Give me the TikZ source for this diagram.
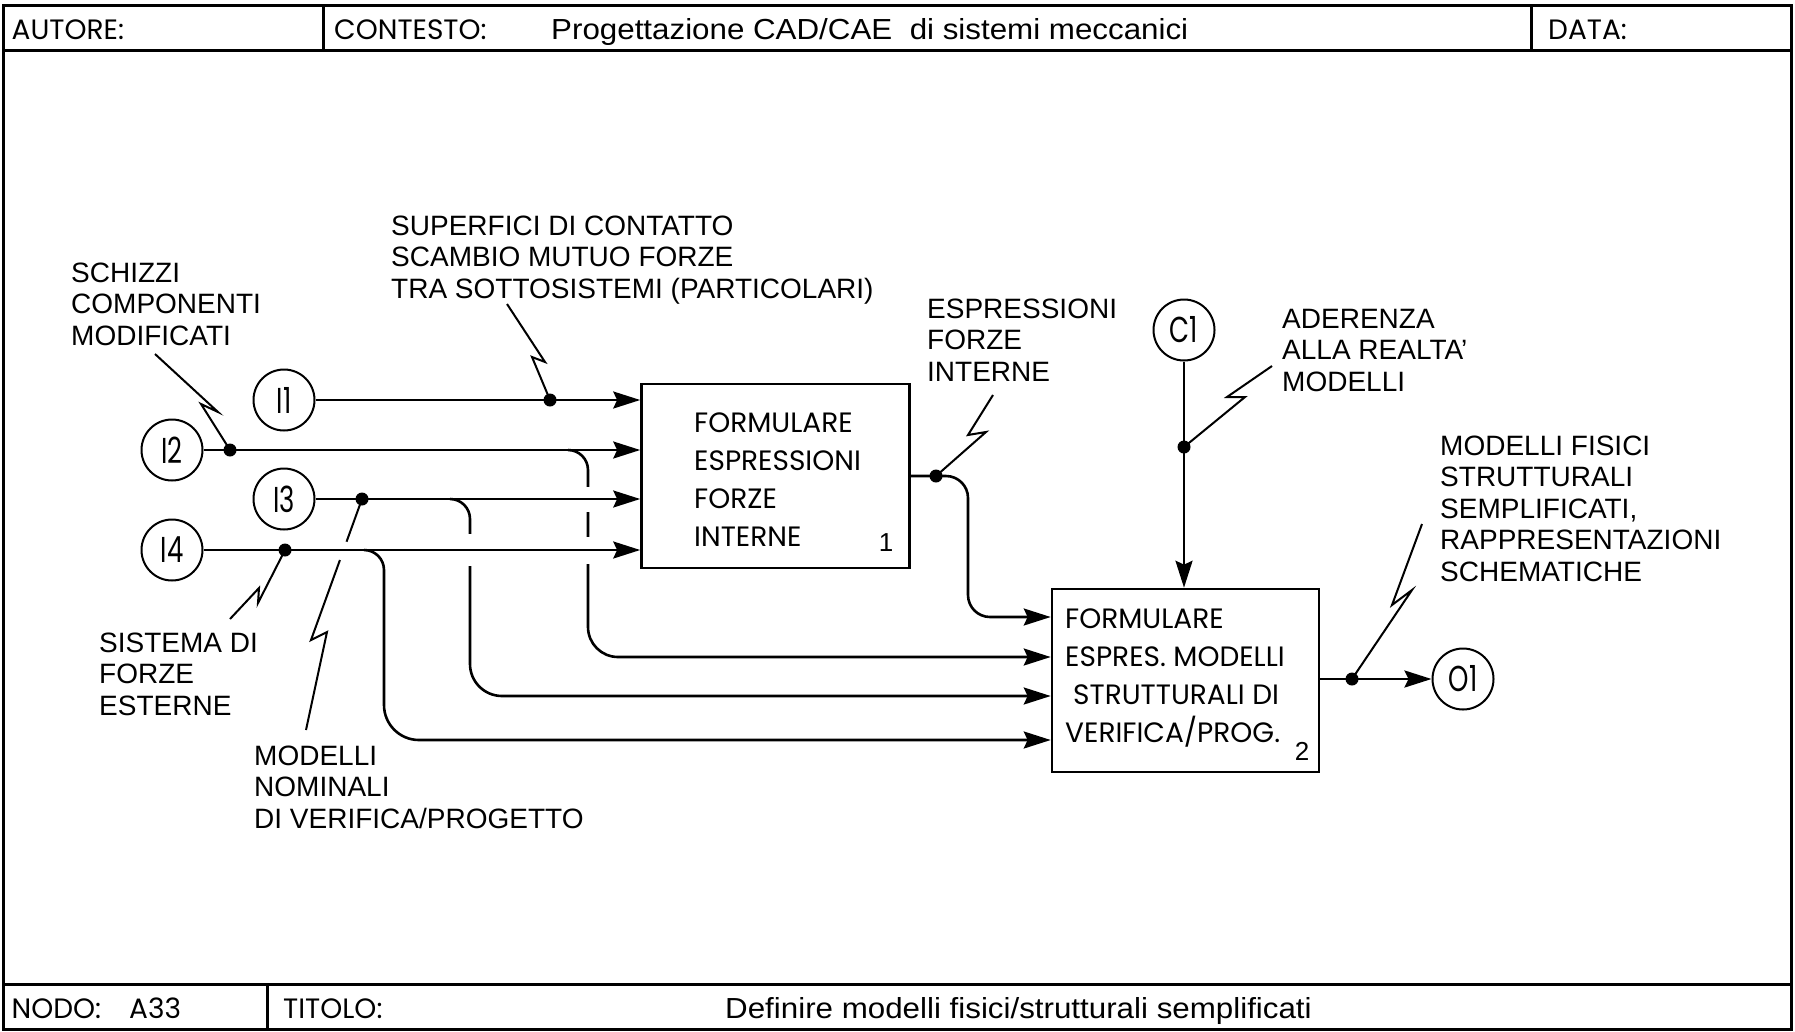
\documentclass[tikz,border=0pt]{standalone}
\usepackage{fontspec}
\setmainfont{Liberation Sans}
\newfontfamily\condfont{Poppins}
\newfontfamily\portfont[FakeStretch=0.72]{Poppins}
\newfontfamily\headfont[FakeStretch=1.08]{Liberation Sans}
\usetikzlibrary{arrows.meta}

\begin{document}
\begin{tikzpicture}[x=1pt,y=-1pt,
  frame/.style={line width=3pt},
  conn/.style={line width=2.6pt,-{Stealth[length=27pt,width=17pt,inset=4pt]}},
  leader/.style={line width=2pt,line join=miter},
  gap/.style={white,line width=7pt},
  proc/.style={draw,line width=2.6pt,inner sep=0pt},
  proctext/.style={align=left,inner sep=0pt,anchor=base west,
    font=\condfont\fontsize{28}{38}\selectfont},
  port/.style={circle,draw,line width=2pt,minimum size=61pt,inner sep=0pt,
    font=\portfont\fontsize{36}{36}\selectfont},
  dot/.style={circle,fill,inner sep=0pt,minimum size=13pt},
  lbl/.style={align=left,inner sep=0pt,anchor=base west,
    font=\fontsize{28}{31.5}\selectfont},
  hdr/.style={inner sep=0pt,anchor=base west,font=\condfont\fontsize{28}{28}\selectfont},
  ttl/.style={inner sep=0pt,anchor=base west,font=\headfont\fontsize{29}{29}\selectfont},
  num/.style={inner sep=0pt,font=\fontsize{26}{26}\selectfont}]
\useasboundingbox (0,0) rectangle (1795,1031);

% form frame with header and footer rows
\draw[frame] (3.5,5) rectangle (1791.5,1029);
\draw[frame] (3.5,50) -- (1791.5,50);
\draw[frame] (3.5,984.5) -- (1791.5,984.5);
\draw[frame] (323,5) -- (323,50);
\draw[frame] (1531,5) -- (1531,50);
\draw[frame] (267,984.5) -- (267,1029);

\node[hdr] (autore) at (11.5,39.5) {AUTORE:};
\node[hdr] (contesto) at (334,39.5) {CONTESTO:};
\node[ttl] (contestotxt) at (551,39.5) {Progettazione CAD/CAE\ \ di sistemi meccanici};
\node[hdr] (data) at (1548,39.5) {DATA:};
\node[hdr] (nodo) at (11.5,1018) {NODO:\hspace{28pt}A33};
\node[hdr] (titolo) at (283,1018) {TITOLO:};
\node[ttl] (titolotxt) at (725,1018) {Definire modelli fisici/strutturali semplificati};

% activity boxes
\node[proc,minimum width=268pt,minimum height=184pt] (box1) at (775.5,476) {};
\node[proctext] (t1) at (694,546.5) {FORMULARE\\ESPRESSIONI\\FORZE\\INTERNE};
\node[num] (n1) at (886,543) {1};
\node[proc,minimum width=267pt,minimum height=183pt] (box2) at (1185.5,680.5) {};
\node[proctext] (t2) at (1065,742)
  {FORMULARE\\ESPRES.\ MODELLI\\\hspace{8pt}STRUTTURALI DI\\VERIFICA/PROG.};
\node[num] (n2) at (1302,751) {2};

% boundary arrows
\node[port] (I1) at (284,400) {I1};
\node[port] (I2) at (172,450) {I2};
\node[port] (I3) at (284,499) {I3};
\node[port] (I4) at (172,550) {I4};
\node[port] (C1) at (1184,330) {C1};
\node[port] (O1) at (1463,679) {O1};

% rows on the left side of box 2
\path (0,617) coordinate (ya) (0,657) coordinate (yb)
      (0,696) coordinate (yc) (0,740) coordinate (yd);

% branches running down to box 2
\draw[conn] (568,450) arc[start angle=-90,end angle=0,radius=20]
  -- (588,627) arc[start angle=180,end angle=90,radius=30] -- (box2.west |- yb);
\draw[conn] (450,499) arc[start angle=-90,end angle=0,radius=20]
  -- (470,664) arc[start angle=180,end angle=90,radius=32] -- (box2.west |- yc);
\draw[conn] (364,550) arc[start angle=-90,end angle=0,radius=20]
  -- (384,705) arc[start angle=180,end angle=90,radius=35] -- (box2.west |- yd);
\draw[conn] (box1.east) -- (946,476) arc[start angle=-90,end angle=0,radius=22]
  -- (968,595) arc[start angle=180,end angle=90,radius=22] -- (box2.west |- ya);

% label leader crossing the I4 line
\draw[leader] (306,730) -- (327,632) -- (311,640) -- (362,499);

% breaks where lines pass under the horizontal inputs
\draw[gap] (588,487) -- (588,512);
\draw[gap] (588,537) -- (588,564);
\draw[gap] (470,534) -- (470,566);
\draw[gap] (347,542) -- (340.4,560);

% inputs into box 1
\draw[conn] (I1) -- (box1.west |- I1);
\draw[conn] (I2) -- (box1.west |- I2);
\draw[conn] (I3) -- (box1.west |- I3);
\draw[conn] (I4) -- (box1.west |- I4);

% control and output of box 2
\draw[conn] (C1) -- (C1.south |- box2.north);
\draw[conn] (box2.east |- O1) -- (O1);

% junction dots
\node[dot] (j1) at (550,400) {};
\node[dot] (j2) at (230,450) {};
\node[dot] (j3) at (362,499) {};
\node[dot] (j4) at (285,550) {};
\node[dot] (jo) at (936,476) {};
\node[dot] (jc) at (1184,447) {};
\node[dot] (jout) at (1352,679) {};

% squiggle leaders from labels
\draw[leader] (155,354) -- (218,412) -- (201,404) -- (j2.center);
\draw[leader] (507,304) -- (545,362) -- (532,357) -- (j1.center);
\draw[leader] (993,395) -- (968,435) -- (986,432) -- (jo.center);
\draw[leader] (1272,366) -- (1227,397) -- (1245,397) -- (jc.center);
\draw[leader] (1422,524) -- (1392,605) -- (1412,590) -- (jout.center);
\draw[leader] (230,619) -- (259,588) -- (258,603) -- (j4.center);

% labels (anchored at the baseline of their last line)
\node[lbl] (lschizzi) at (71,345) {SCHIZZI\\COMPONENTI\\MODIFICATI};
\node[lbl] (lsuperf) at (391,298) {SUPERFICI DI CONTATTO\\SCAMBIO MUTUO FORZE\\TRA SOTTOSISTEMI (PARTICOLARI)};
\node[lbl] (lespr) at (927,381) {ESPRESSIONI\\FORZE\\INTERNE};
\node[lbl] (lader) at (1282,391) {ADERENZA\\ALLA REALTA’\\MODELLI};
\node[lbl] (lmodfis) at (1440,581) {MODELLI FISICI\\STRUTTURALI\\SEMPLIFICATI,\\RAPPRESENTAZIONI\\SCHEMATICHE};
\node[lbl] (lsist) at (99,715) {SISTEMA DI\\FORZE\\ESTERNE};
\node[lbl] (lnom) at (254,828) {MODELLI\\NOMINALI\\DI VERIFICA/PROGETTO};
\end{tikzpicture}
\end{document}
